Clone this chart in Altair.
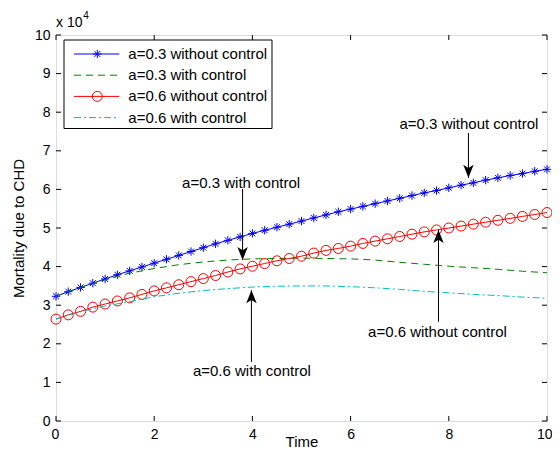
import altair as alt
import pandas as pd

# ---------------- data (values in units of 10^4) ----------------
TIME_Q = [0.0, 0.25, 0.5, 0.75, 1.0, 1.25, 1.5, 1.75, 2.0, 2.25, 2.5, 2.75, 3.0, 3.25,
          3.5, 3.75, 4.0, 4.25, 4.5, 4.75, 5.0, 5.25, 5.5, 5.75, 6.0, 6.25, 6.5, 6.75,
          7.0, 7.25, 7.5, 7.75, 8.0, 8.25, 8.5, 8.75, 9.0, 9.25, 9.5, 9.75, 10.0]
A03_NO_CTRL = [3.23, 3.35, 3.46, 3.57, 3.68, 3.79, 3.89, 3.99, 4.09, 4.19, 4.29, 4.39,
               4.49, 4.59, 4.68, 4.77, 4.86, 4.94, 5.02, 5.10, 5.18, 5.26, 5.34, 5.42,
               5.49, 5.56, 5.63, 5.70, 5.77, 5.84, 5.91, 5.97, 6.04, 6.11, 6.17, 6.24,
               6.30, 6.36, 6.41, 6.47, 6.52]
A06_NO_CTRL = [2.64, 2.75, 2.84, 2.95, 3.03, 3.11, 3.19, 3.28, 3.37, 3.45, 3.53, 3.61,
               3.69, 3.77, 3.86, 3.94, 4.01, 4.08, 4.15, 4.21, 4.27, 4.35, 4.42, 4.47,
               4.53, 4.60, 4.66, 4.72, 4.78, 4.84, 4.90, 4.95, 5.00, 5.05, 5.10, 5.15,
               5.20, 5.25, 5.30, 5.35, 5.40]
TIME_H = [0.0, 0.5, 1.0, 1.5, 2.0, 2.5, 3.0, 3.5, 4.0, 4.5, 5.0, 5.5, 6.0, 6.5, 7.0,
          7.5, 8.0, 8.5, 9.0, 9.5, 10.0]
A03_CTRL = [3.23, 3.46, 3.66, 3.83, 3.95, 4.05, 4.12, 4.17, 4.20, 4.21, 4.22, 4.21,
            4.20, 4.17, 4.11, 4.06, 4.01, 3.97, 3.93, 3.88, 3.84]
A06_CTRL = [2.64, 2.83, 2.98, 3.09, 3.22, 3.31, 3.38, 3.43, 3.47, 3.49, 3.50, 3.50,
            3.48, 3.45, 3.41, 3.36, 3.32, 3.28, 3.25, 3.21, 3.18]

SERIES = ["a=0.3 without control", "a=0.3 with control",
          "a=0.6 without control", "a=0.6 with control"]
COLORS = ["#0000ff", "#008000", "#ff0000", "#00bfbf"]
DASHES = [[1, 0], [7, 5], [1, 0], [7, 3, 2, 3]]

X_TICKS = [0, 2, 4, 6, 8, 10]
Y_TICKS = [0, 1, 2, 3, 4, 5, 6, 7, 8, 9, 10]

ANN_LABEL = ["a=0.3 without control", "a=0.3 with control",
             "a=0.6 with control", "a=0.6 without control"]
ANN_TEXT_X = [8.41, 3.77, 3.99, 7.77]
ANN_TEXT_Y = [7.69, 6.17, 1.30, 2.30]
ARROW_X = [8.40, 3.80, 3.98, 7.79]
ARROW_START_Y = [7.46, 6.01, 1.53, 2.57]
ARROW_TIP_Y = [6.30, 4.17, 3.39, 4.95]
ARROW_DIR = ["down", "down", "up", "up"]

FONT = "Liberation Sans"
W, H = 491, 386

# ---------------- frames ----------------
df_blue = pd.DataFrame({"t": TIME_Q, "v": A03_NO_CTRL})
df_red = pd.DataFrame({"t": TIME_Q, "v": A06_NO_CTRL})
df_green = pd.DataFrame({"t": TIME_H, "v": A03_CTRL})
df_cyan = pd.DataFrame({"t": TIME_H, "v": A06_CTRL})

xs = alt.Scale(domain=[0, 10], nice=False, zero=False)
ys = alt.Scale(domain=[0, 10], nice=False, zero=False)

xaxis = alt.Axis(values=X_TICKS, title="Time", ticks=False, domain=False, grid=False,
                 labelFont=FONT, labelFontSize=14, labelColor="black", labelPadding=6,
                 labelOverlap=False, labelFlush=True, labelFlushOffset=5,
                 titleFont=FONT, titleFontSize=15, titleFontWeight="normal",
                 titleColor="black", titlePadding=-7, format="d")
yaxis = alt.Axis(values=Y_TICKS, tickCount=11, title="Mortality due to CHD", ticks=False,
                 domain=False, grid=False, labelFont=FONT, labelFontSize=14,
                 labelColor="black", labelPadding=6, labelOverlap=False, labelFlush=False,
                 titleFont=FONT, titleFontSize=15,
                 titleFontWeight="normal", titleColor="black", titlePadding=8, format="d")

X = alt.X("t:Q", scale=xs, axis=xaxis)
Y = alt.Y("v:Q", scale=ys, axis=yaxis)

STAR = "M0,-1V1M-1,0H1M-0.7,-0.7L0.7,0.7M-0.7,0.7L0.7,-0.7"

blue_line = alt.Chart(df_blue).mark_line(color=COLORS[0], strokeWidth=1).encode(x=X, y=Y)
blue_pts = alt.Chart(df_blue).mark_point(shape=STAR, size=70, filled=False, color=COLORS[0],
                                         strokeWidth=1, opacity=1).encode(x=X, y=Y)
green_line = alt.Chart(df_green).mark_line(color=COLORS[1], strokeWidth=1,
                                           strokeDash=DASHES[1]).encode(x=X, y=Y)
red_line = alt.Chart(df_red).mark_line(color=COLORS[2], strokeWidth=1).encode(x=X, y=Y)
red_pts = alt.Chart(df_red).mark_point(shape="circle", size=100, filled=False,
                                       color=COLORS[2], strokeWidth=1,
                                       opacity=1).encode(x=X, y=Y)
cyan_line = alt.Chart(df_cyan).mark_line(color=COLORS[3], strokeWidth=1,
                                         strokeDash=DASHES[3]).encode(x=X, y=Y)

# inside ticks (MATLAB style box)
df_xt = pd.DataFrame({"t": X_TICKS})
df_yt = pd.DataFrame({"v": Y_TICKS})
xt_bot = alt.Chart(df_xt).mark_rule(color="black").encode(x=X, y=alt.value(H), y2=alt.value(H - 5))
xt_top = alt.Chart(df_xt).mark_rule(color="black").encode(x=X, y=alt.value(0), y2=alt.value(5))
yt_left = alt.Chart(df_yt).mark_rule(color="black").encode(y=Y, x=alt.value(0), x2=alt.value(5))
yt_right = alt.Chart(df_yt).mark_rule(color="black").encode(y=Y, x=alt.value(W), x2=alt.value(W - 5))

# annotations (same shared scales / axes)
df_ann = pd.DataFrame({"ax": ARROW_X, "ys": ARROW_START_Y, "yt": ARROW_TIP_Y,
                       "tx": ANN_TEXT_X, "ty": ANN_TEXT_Y, "label": ANN_LABEL,
                       "dir": ARROW_DIR})
HEAD_DOWN = "M0,0L-0.4,-1L0,-0.75L0.4,-1Z"
HEAD_UP = "M0,0L-0.4,1L0,0.75L0.4,1Z"
shafts = alt.Chart(df_ann).mark_rule(color="black", strokeWidth=1).encode(
    x=alt.X("ax:Q", scale=xs, axis=xaxis), y=alt.Y("ys:Q", scale=ys, axis=yaxis), y2="yt:Q")
heads = alt.Chart(df_ann).mark_point(filled=True, color="black", opacity=1, size=676,
                                     strokeWidth=0).encode(
    x=alt.X("ax:Q", scale=xs, axis=xaxis), y=alt.Y("yt:Q", scale=ys, axis=yaxis),
    shape=alt.Shape("dir:N", scale=alt.Scale(domain=["down", "up"],
                                             range=[HEAD_DOWN, HEAD_UP]), legend=None))
ann_text = alt.Chart(df_ann).mark_text(font=FONT, fontSize=15, color="black",
                                       align="center", baseline="middle").encode(
    x=alt.X("tx:Q", scale=xs, axis=xaxis), y=alt.Y("ty:Q", scale=ys, axis=yaxis),
    text="label:N")

# exponent label
exp_base = alt.Chart(pd.DataFrame({"s": ["x 10"]})).mark_text(
    font=FONT, fontSize=14, color="black", align="left", baseline="alphabetic").encode(
    text="s:N", x=alt.value(0), y=alt.value(-8.3))
exp_sup = alt.Chart(pd.DataFrame({"s": ["4"]})).mark_text(
    font=FONT, fontSize=10, color="black", align="left", baseline="alphabetic").encode(
    text="s:N", x=alt.value(27.3), y=alt.value(-16.5))

data_layer = alt.layer(blue_line, xt_bot, xt_top, yt_left, yt_right,
                       blue_pts, green_line, red_line, red_pts, cyan_line,
                       shafts, heads, ann_text, exp_base, exp_sup)

# legend (drawn inside the plot, top-left)
df_leg = pd.DataFrame({"series": SERIES, "row": [0, 1, 2, 3], "label": SERIES})
LY = alt.Y("row:Q", scale=alt.Scale(domain=[0, 3], range=[19, 82.6]), axis=None)
LC = alt.Color("series:N", scale=alt.Scale(domain=SERIES, range=COLORS), legend=None)
leg_box = alt.Chart(pd.DataFrame({"b": [0]})).mark_rect(
    fill="white", stroke="black", strokeWidth=1).encode(
    x=alt.value(8), x2=alt.value(216), y=alt.value(5), y2=alt.value(93.5))
leg_lines = alt.Chart(df_leg).mark_rule(strokeWidth=1).encode(
    x=alt.value(18), x2=alt.value(63.3), y=LY, color=LC,
    strokeDash=alt.StrokeDash("series:N", scale=alt.Scale(domain=SERIES, range=DASHES),
                              legend=None))
leg_star = alt.Chart(df_leg).transform_filter(alt.datum.row == 0).mark_point(
    shape=STAR, size=70, filled=False, strokeWidth=1, opacity=1).encode(
    x=alt.value(41.3), y=LY, color=LC)
leg_circ = alt.Chart(df_leg).transform_filter(alt.datum.row == 2).mark_point(
    shape="circle", size=100, filled=False, strokeWidth=1, opacity=1).encode(
    x=alt.value(41.3), y=LY, color=LC)
leg_text = alt.Chart(df_leg).mark_text(font=FONT, fontSize=15, color="black",
                                       align="left", baseline="middle").encode(
    x=alt.value(72.3), y=LY, text="label:N")
legend_layer = alt.layer(leg_box, leg_lines, leg_star, leg_circ, leg_text)

chart = alt.layer(data_layer, legend_layer).resolve_scale(y="independent").properties(
    width=W, height=H, autosize="none",
    padding={"left": 48, "top": 27, "right": 5, "bottom": 29},
).configure_view(stroke="black", strokeWidth=1).configure(background="white")

chart.save("out.html", embed_options={"renderer": "svg", "actions": False})
